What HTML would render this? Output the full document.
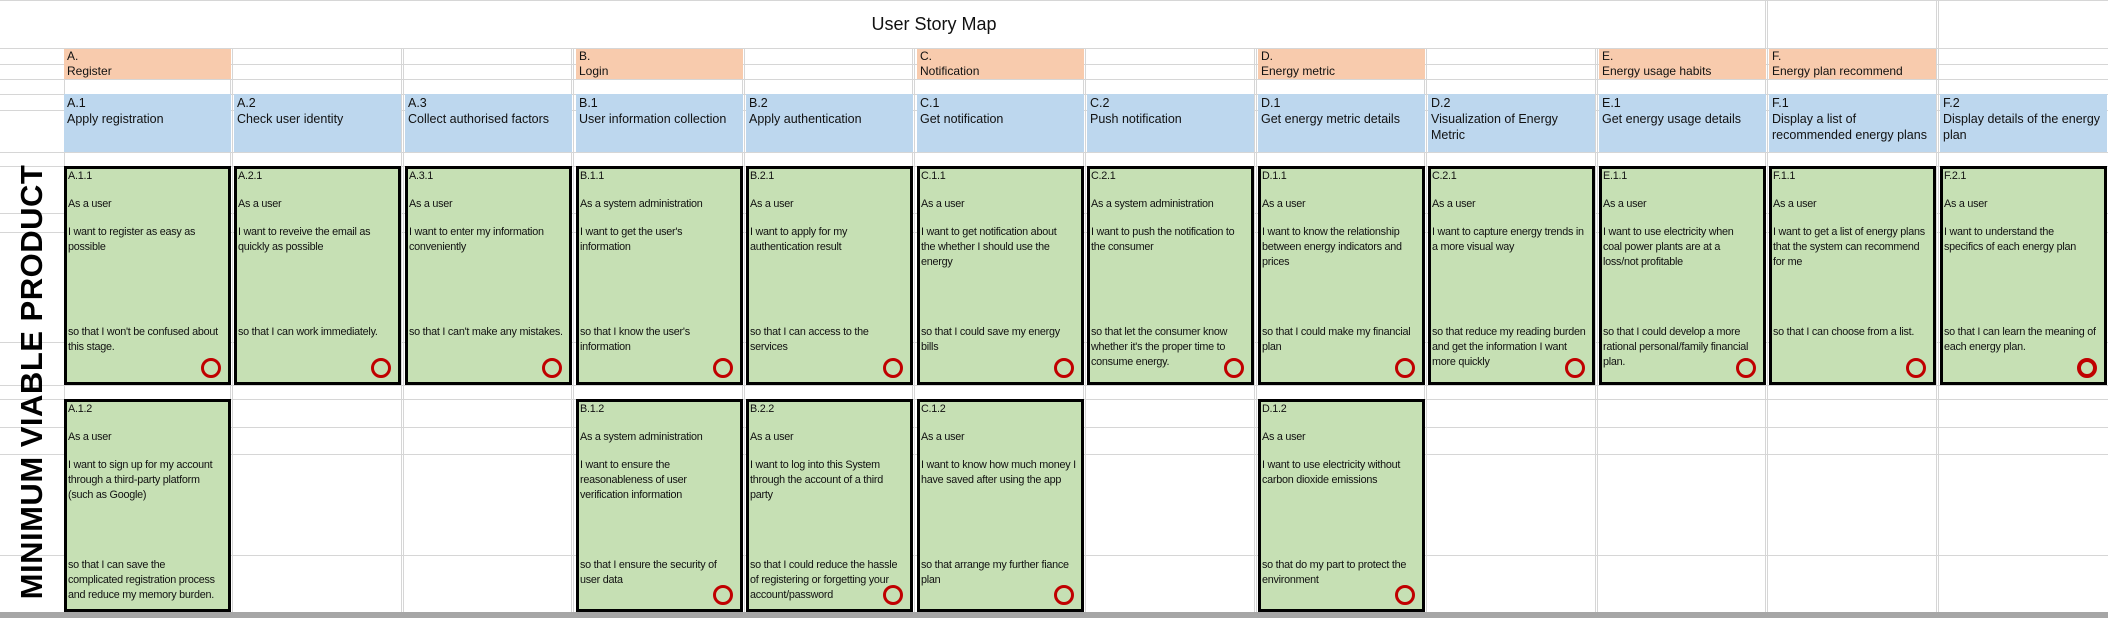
<!DOCTYPE html>
<html><head><meta charset="utf-8"><style>
*{margin:0;padding:0;box-sizing:border-box}
body{width:2108px;height:618px;position:relative;background:#fff;overflow:hidden;font-family:"Liberation Sans",sans-serif;color:#111}
.v{position:absolute;top:0;width:1px;height:612px;background:#d6d6d6}
.h{position:absolute;left:0;width:2108px;height:1px;background:#d6d6d6}
.or{position:absolute;top:49px;height:30px;width:167px;background:#f8cbad;font-size:12px;line-height:15px;padding-left:3px;overflow:hidden}
.bl{position:absolute;top:94px;height:58px;width:167px;background:#bdd7ee;font-size:12.5px;line-height:16px;padding:1px 3px 0 3px}
.c{position:absolute;width:167px;border:3px solid #000;background:#c6e0b4;font-size:10.8px;line-height:15px;letter-spacing:-0.25px}
.c div{position:absolute;left:1px;right:0;white-space:nowrap}
.i{top:0}.a{top:28px}.w{top:56px}.s{top:156px}
.o{position:absolute;right:7px;bottom:4px;width:20px;height:20px;border:3px solid #c00000;border-radius:50%}
.r1{top:166px;height:219px}.r2{top:399px;height:213px}
</style></head><body>
<div class="h" style="top:48px"></div><div class="h" style="top:64px"></div><div class="h" style="top:79px"></div><div class="h" style="top:94px"></div><div class="h" style="top:110px"></div><div class="h" style="top:152px"></div><div class="h" style="top:166px"></div><div class="h" style="top:213px"></div><div class="h" style="top:232px"></div><div class="h" style="top:342px"></div><div class="h" style="top:385px"></div><div class="h" style="top:399px"></div><div class="h" style="top:427px"></div><div class="h" style="top:454px"></div><div class="h" style="top:555px"></div>
<div class="v" style="left:64px"></div>
<div class="v" style="left:232px"></div><div class="v" style="left:403px"></div><div class="v" style="left:573px"></div><div class="v" style="left:744px"></div><div class="v" style="left:914px"></div><div class="v" style="left:1085px"></div><div class="v" style="left:1256px"></div><div class="v" style="left:1426px"></div><div class="v" style="left:1597px"></div><div class="v" style="left:1767px"></div><div class="v" style="left:1938px"></div>
<div class="v" style="left:230px"></div><div class="v" style="left:401px"></div><div class="v" style="left:571px"></div><div class="v" style="left:742px"></div><div class="v" style="left:912px"></div><div class="v" style="left:1083px"></div><div class="v" style="left:1254px"></div><div class="v" style="left:1424px"></div><div class="v" style="left:1595px"></div><div class="v" style="left:1765px"></div><div class="v" style="left:1936px"></div>
<div style="position:absolute;left:0;top:0;width:2108px;height:1px;background:#d6d6d6"></div>
<div style="position:absolute;left:64px;top:1px;width:1700px;height:47px;background:#fff"></div>
<div style="position:absolute;left:0;top:14px;width:1868px;text-align:center;font-size:18px">User Story Map</div>

<div class="or" style="left:64px">A.<br>Register</div>
<div class="or" style="left:576px">B.<br>Login</div>
<div class="or" style="left:917px">C.<br>Notification</div>
<div class="or" style="left:1258px">D.<br>Energy metric</div>
<div class="or" style="left:1599px">E.<br>Energy usage habits</div>
<div class="or" style="left:1769px">F.<br>Energy plan recommend</div>

<div class="bl" style="left:64px">A.1<br>Apply registration</div>
<div class="bl" style="left:234px">A.2<br>Check user identity</div>
<div class="bl" style="left:405px">A.3<br>Collect authorised factors</div>
<div class="bl" style="left:576px">B.1<br>User information collection</div>
<div class="bl" style="left:746px">B.2<br>Apply authentication</div>
<div class="bl" style="left:917px">C.1<br>Get notification</div>
<div class="bl" style="left:1087px">C.2<br>Push notification</div>
<div class="bl" style="left:1258px">D.1<br>Get energy metric details</div>
<div class="bl" style="left:1428px">D.2<br>Visualization of Energy Metric</div>
<div class="bl" style="left:1599px">E.1<br>Get energy usage details</div>
<div class="bl" style="left:1769px">F.1<br>Display a list of recommended energy plans</div>
<div class="bl" style="left:1940px">F.2<br>Display details of the energy plan</div>

<div class="c r1" style="left:64px"><div class="i">A.1.1</div><div class="a">As a user</div><div class="w">I want to register as easy as<br>possible</div><div class="s">so that I won't be confused about<br>this stage.</div><span class="o"></span></div>
<div class="c r1" style="left:234px"><div class="i">A.2.1</div><div class="a">As a user</div><div class="w">I want to reveive the email as<br>quickly as possible</div><div class="s">so that I can work immediately.</div><span class="o"></span></div>
<div class="c r1" style="left:405px"><div class="i">A.3.1</div><div class="a">As a user</div><div class="w">I want to enter my information<br>conveniently</div><div class="s">so that I can't make any mistakes.</div><span class="o"></span></div>
<div class="c r1" style="left:576px"><div class="i">B.1.1</div><div class="a">As a system administration</div><div class="w">I want to get the user's<br>information</div><div class="s">so that I know the user's<br>information</div><span class="o"></span></div>
<div class="c r1" style="left:746px"><div class="i">B.2.1</div><div class="a">As a user</div><div class="w">I want to apply for my<br>authentication result</div><div class="s">so that I can access to the<br>services</div><span class="o"></span></div>
<div class="c r1" style="left:917px"><div class="i">C.1.1</div><div class="a">As a user</div><div class="w">I want to get notification about<br>the whether I should use the<br>energy</div><div class="s">so that I could save my energy<br>bills</div><span class="o"></span></div>
<div class="c r1" style="left:1087px"><div class="i">C.2.1</div><div class="a">As a system administration</div><div class="w">I want to push the notification to<br>the consumer</div><div class="s">so that let the consumer know<br>whether it's the proper time to<br>consume energy.</div><span class="o"></span></div>
<div class="c r1" style="left:1258px"><div class="i">D.1.1</div><div class="a">As a user</div><div class="w">I want to know the relationship<br>between energy indicators and<br>prices</div><div class="s">so that I could make my financial<br>plan</div><span class="o"></span></div>
<div class="c r1" style="left:1428px"><div class="i">C.2.1</div><div class="a">As a user</div><div class="w">I want to capture energy trends in<br>a more visual way</div><div class="s">so that reduce my reading burden<br>and get the information I want<br>more quickly</div><span class="o"></span></div>
<div class="c r1" style="left:1599px"><div class="i">E.1.1</div><div class="a">As a user</div><div class="w">I want to use electricity when<br>coal power plants are at a<br>loss/not profitable</div><div class="s">so that I could develop a more<br>rational personal/family financial<br>plan.</div><span class="o"></span></div>
<div class="c r1" style="left:1769px"><div class="i">F.1.1</div><div class="a">As a user</div><div class="w">I want to get a list of energy plans<br>that the system can recommend<br>for me</div><div class="s">so that I can choose from a list.</div><span class="o"></span></div>
<div class="c r1" style="left:1940px"><div class="i">F.2.1</div><div class="a">As a user</div><div class="w">I want to understand the<br>specifics of each energy plan</div><div class="s">so that I can learn the meaning of<br>each energy plan.</div><span class="o" style="border-width:4px"></span></div>

<div class="c r2" style="left:64px"><div class="i">A.1.2</div><div class="a">As a user</div><div class="w">I want to sign up for my account<br>through a third-party platform<br>(such as Google)</div><div class="s">so that I can save the<br>complicated registration process<br>and reduce my memory burden.</div></div>
<div class="c r2" style="left:576px"><div class="i">B.1.2</div><div class="a">As a system administration</div><div class="w">I want to ensure the<br>reasonableness of user<br>verification information</div><div class="s">so that I ensure the security of<br>user data</div><span class="o"></span></div>
<div class="c r2" style="left:746px"><div class="i">B.2.2</div><div class="a">As a user</div><div class="w">I want to log into this System<br>through the account of a third<br>party</div><div class="s">so that I could reduce the hassle<br>of registering or forgetting your<br>account/password</div><span class="o"></span></div>
<div class="c r2" style="left:917px"><div class="i">C.1.2</div><div class="a">As a user</div><div class="w">I want to know how much money I<br>have saved after using the app</div><div class="s">so that arrange my further fiance<br>plan</div><span class="o"></span></div>
<div class="c r2" style="left:1258px"><div class="i">D.1.2</div><div class="a">As a user</div><div class="w">I want to use electricity without<br>carbon dioxide emissions</div><div class="s">so that do my part to protect the<br>environment</div><span class="o"></span></div>

<div style="position:absolute;left:32px;top:382px;width:0;height:0"><div style="position:absolute;left:-260px;top:-19px;width:520px;text-align:center;font-size:31px;font-weight:bold;line-height:38px;transform:rotate(-90deg);color:#000;letter-spacing:0.5px">MINIMUM VIABLE PRODUCT</div></div>
<div style="position:absolute;left:0;top:612px;width:2108px;height:6px;background:#a6a6a6"></div>
</body></html>
